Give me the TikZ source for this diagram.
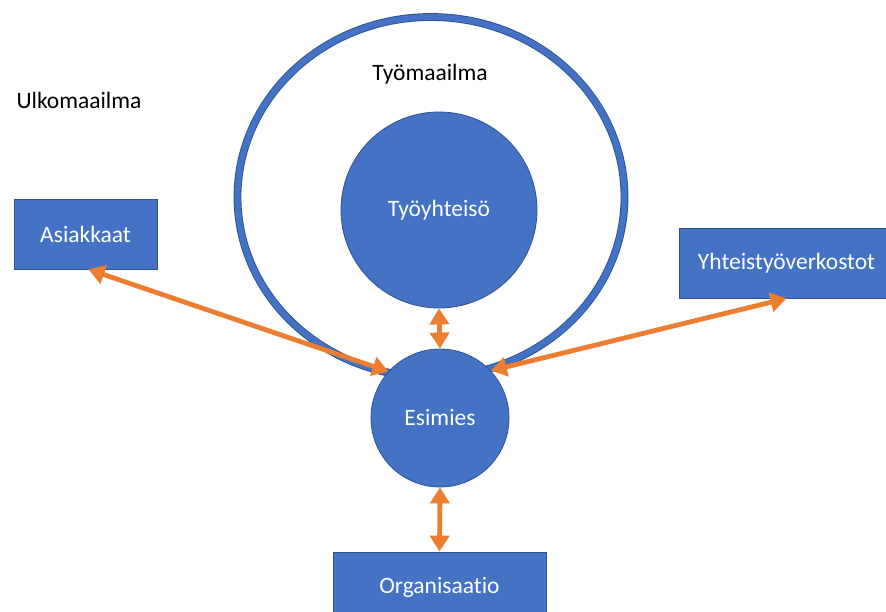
\documentclass[tikz,border=0pt]{standalone}
\usepackage{fontspec}
\setmainfont[Ligatures=NoCommon]{Carlito}
\usetikzlibrary{arrows.meta,shapes.geometric}
\definecolor{boxblue}{HTML}{4472C4}
\definecolor{edgeblue}{HTML}{2F528F}
\definecolor{arrorange}{HTML}{ED7D31}
\begin{document}
\begin{tikzpicture}[x=1pt,y=-1pt,
  lbl/.style={font=\fontsize{23.5}{28}\selectfont},
  bluecirc/.style={circle,fill=boxblue,draw=edgeblue,line width=0.8pt,text=white,inner sep=0pt,font=\fontsize{23.5}{28}\selectfont},
  bluebox/.style={rectangle,fill=boxblue,draw=edgeblue,line width=0.8pt,text=white,inner sep=0pt,font=\fontsize{23.5}{28}\selectfont},
  ringshape/.style={ellipse,draw=edgeblue,double=boxblue,double distance=6pt,line width=0.9pt,inner sep=0pt},
  arr/.style={draw=arrorange,line width=4.8pt,{Triangle[width=19pt,length=16pt]}-{Triangle[width=19pt,length=16pt]}}
]
\useasboundingbox (0,0) rectangle (886,612);
\fill[white] (0,0) rectangle (886,612);
% outer ring
\node[ringshape,minimum width=387pt,minimum height=360pt] (ring) at (431,197) {};
% labels
\node[lbl,anchor=west] (ulko) at (13,100) {Ulkomaailma};
\node[lbl] (tyomaailma) at (430,74) {Työmaailma};
% circles
\node[bluecirc,minimum size=196pt] (yhteiso) at (439,210) {Työyhteisö};
\node[bluecirc,minimum size=138pt] (esimies) at (440,418) {Esimies};
% boxes
\node[bluebox,minimum width=143pt,minimum height=70pt] (asiakkaat) at (85.5,234) {Asiakkaat};
\node[bluebox,minimum width=215pt,minimum height=70pt] (verkostot) at (786.5,263) {Yhteistyöverkostot};
\node[bluebox,minimum width=213pt,minimum height=70pt] (organisaatio) at (439.5,587) {Organisaatio};
% arrows
\draw[arr] (asiakkaat.south) ++(3,0) coordinate (a1) (a1) -- (esimies.138);
\draw[arr] (verkostot.south) -- (esimies.43);
\draw[arr] (yhteiso.south) -- (esimies.north);
\draw[arr] (esimies.south) -- (organisaatio.north);
\end{tikzpicture}
\end{document}
